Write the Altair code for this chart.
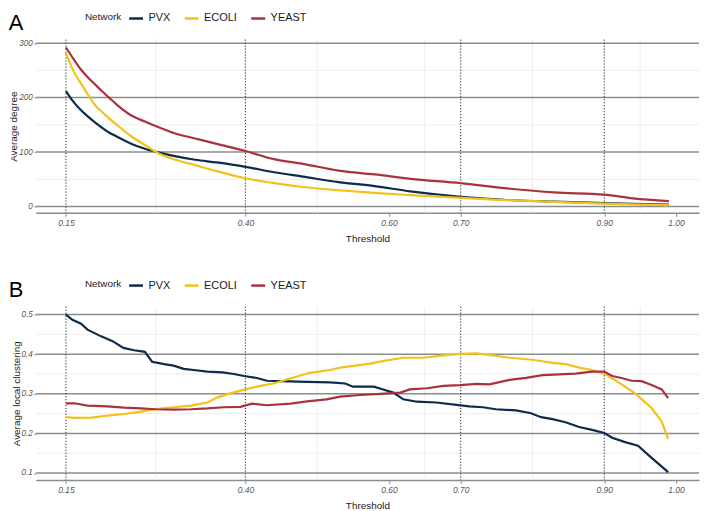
import altair as alt
import pandas as pd

NETWORKS = ["PVX", "ECOLI", "YEAST"]
COLORS = ["#0D2B4B", "#F2C21B", "#A8323E"]
PANEL_LABELS = ["A", "B"]
Y_TITLES = ["Average degree", "Average local clustering"]

X_BREAKS = [0.15, 0.40, 0.60, 0.70, 0.90, 1.00]
X_MINOR = [0.275, 0.50, 0.65, 0.80, 0.95]
VLINES = [0.15, 0.40, 0.70, 0.90]

A_Y_BREAKS = [0, 100, 200, 300]
A_Y_MINOR = [50, 150, 250]
B_Y_BREAKS = [0.1, 0.2, 0.3, 0.4, 0.5]
B_Y_MINOR = [0.15, 0.25, 0.35, 0.45]

# Panel A: average degree
A_THRESH = [0.15, 0.16, 0.17, 0.18, 0.19, 0.20, 0.21, 0.22, 0.24, 0.26, 0.28, 0.30, 0.33,
            0.36, 0.40, 0.44, 0.48, 0.53, 0.58, 0.63, 0.70, 0.76, 0.83, 0.90, 0.94, 0.99]
A_PVX = [212, 193, 178, 166, 155, 145, 136, 129, 116, 106, 99, 93, 86,
         81, 73, 63, 55, 45, 37.5, 28, 18, 12.5, 9, 6.5, 5, 3.5]
A_ECOLI = [282, 250, 228, 207, 187, 174, 162, 151, 130, 113, 97, 87, 76,
           65, 52, 43, 36, 30, 25, 21, 16, 12, 8.5, 5.5, 4, 2.5]
A_YEAST = [292, 272, 253, 238, 225, 212, 200, 188, 168, 156, 145, 135, 125,
           115, 102, 87, 78.5, 66, 59, 51, 43, 34, 26, 22, 15, 10]

# Panel B: average local clustering
B_PVX_T = [0.15, 0.159, 0.171, 0.180, 0.199, 0.215, 0.230, 0.245, 0.260, 0.270, 0.287, 0.300,
           0.314, 0.328, 0.347, 0.368, 0.384, 0.398, 0.416, 0.430, 0.449, 0.486, 0.518, 0.539,
           0.550, 0.560, 0.579, 0.593, 0.606, 0.620, 0.639, 0.666, 0.694, 0.712, 0.731, 0.749,
           0.777, 0.798, 0.812, 0.828, 0.846, 0.865, 0.883, 0.900, 0.911, 0.929, 0.947, 0.966, 0.989]
B_PVX_V = [0.500, 0.487, 0.477, 0.462, 0.445, 0.433, 0.416, 0.410, 0.406, 0.381, 0.375, 0.371,
           0.363, 0.360, 0.356, 0.354, 0.350, 0.345, 0.340, 0.333, 0.332, 0.330, 0.329, 0.326,
           0.318, 0.318, 0.318, 0.310, 0.303, 0.286, 0.280, 0.278, 0.272, 0.268, 0.266, 0.261,
           0.258, 0.251, 0.241, 0.236, 0.228, 0.216, 0.209, 0.201, 0.189, 0.178, 0.169, 0.138, 0.102]
B_ECOLI_T = [0.15, 0.162, 0.185, 0.208, 0.231, 0.254, 0.277, 0.300, 0.324, 0.347, 0.361, 0.379,
             0.400, 0.421, 0.439, 0.467, 0.490, 0.518, 0.532, 0.574, 0.593, 0.620, 0.648, 0.676,
             0.699, 0.722, 0.745, 0.768, 0.800, 0.828, 0.846, 0.865, 0.883, 0.901, 0.920, 0.943,
             0.966, 0.980, 0.989]
B_ECOLI_V = [0.241, 0.239, 0.240, 0.245, 0.249, 0.255, 0.262, 0.266, 0.270, 0.278, 0.291, 0.301,
             0.311, 0.320, 0.326, 0.341, 0.353, 0.360, 0.366, 0.376, 0.383, 0.391, 0.391, 0.397,
             0.401, 0.402, 0.397, 0.391, 0.386, 0.378, 0.375, 0.366, 0.360, 0.350, 0.329, 0.301,
             0.264, 0.230, 0.186]
B_YEAST_T = [0.15, 0.162, 0.180, 0.208, 0.231, 0.254, 0.275, 0.300, 0.324, 0.347, 0.370, 0.393,
             0.409, 0.430, 0.463, 0.486, 0.513, 0.532, 0.560, 0.588, 0.616, 0.629, 0.653, 0.676,
             0.699, 0.722, 0.740, 0.768, 0.791, 0.814, 0.837, 0.860, 0.883, 0.900, 0.911, 0.924,
             0.938, 0.952, 0.966, 0.980, 0.989]
B_YEAST_V = [0.276, 0.276, 0.270, 0.268, 0.265, 0.263, 0.261, 0.260, 0.261, 0.263, 0.266, 0.267,
             0.275, 0.271, 0.275, 0.281, 0.286, 0.293, 0.297, 0.300, 0.303, 0.311, 0.314, 0.320,
             0.322, 0.325, 0.324, 0.335, 0.340, 0.347, 0.349, 0.351, 0.356, 0.356, 0.345, 0.340,
             0.333, 0.332, 0.322, 0.311, 0.289]

FONT = "Liberation Sans"
GRID_DARK = "#8C8C8C"
GRID_LIGHT = "#EBEBEB"


def long_df(series):
    rows = []
    for name, ts, vs in series:
        for t, v in zip(ts, vs):
            rows.append({"threshold": t, "value": v, "network": name})
    return pd.DataFrame(rows)


df_a = long_df([("PVX", A_THRESH, A_PVX), ("ECOLI", A_THRESH, A_ECOLI), ("YEAST", A_THRESH, A_YEAST)])
df_b = long_df([("PVX", B_PVX_T, B_PVX_V), ("ECOLI", B_ECOLI_T, B_ECOLI_V), ("YEAST", B_YEAST_T, B_YEAST_V)])

XDOM = [0.108, 1.032]


def panel(df, letter, ytitle, ydom, ybreaks, yminor, yfmt, interp):
    xscale = alt.Scale(domain=XDOM, nice=False, zero=False)
    yscale = alt.Scale(domain=ydom, nice=False, zero=False)

    minor_v = alt.Chart(pd.DataFrame({"threshold": X_MINOR})).mark_rule(
        color=GRID_LIGHT, strokeWidth=0.9
    ).encode(x=alt.X("threshold:Q", scale=xscale))
    minor_h = alt.Chart(pd.DataFrame({"value": yminor})).mark_rule(
        color=GRID_LIGHT, strokeWidth=0.9
    ).encode(y=alt.Y("value:Q", scale=yscale))
    major_h = alt.Chart(pd.DataFrame({"value": ybreaks})).mark_rule(
        color=GRID_DARK, strokeWidth=1.5
    ).encode(y=alt.Y("value:Q", scale=yscale))
    dotted = alt.Chart(pd.DataFrame({"threshold": VLINES})).mark_rule(
        color="#222222", strokeWidth=1, strokeDash=[1.2, 1.8]
    ).encode(x=alt.X("threshold:Q", scale=xscale))

    lines = alt.Chart(df).mark_line(strokeWidth=2.2, interpolate=interp).encode(
        x=alt.X(
            "threshold:Q",
            scale=xscale,
            axis=alt.Axis(
                values=X_BREAKS, format=".2f", title="Threshold", grid=False,
                domain=True, domainColor=GRID_DARK, domainWidth=1.5,
                ticks=True, tickColor=GRID_DARK, tickSize=3.5, tickWidth=1,
                labelPadding=2, labelFontSize=8.5, labelFontStyle="italic",
                labelColor="#555555", titleFontSize=10, titleColor="#1A1A1A",
                titleFontWeight="normal", titlePadding=7, labelFlush=False,
            ),
        ),
        y=alt.Y(
            "value:Q",
            scale=yscale,
            axis=alt.Axis(
                values=ybreaks, format=yfmt, title=ytitle, grid=False, domain=False,
                ticks=True, tickColor=GRID_DARK, tickSize=2, tickWidth=1,
                labelPadding=1.5, labelFontSize=8.2, labelFontStyle="italic",
                labelColor="#555555", titleFontSize=10, titleColor="#1A1A1A",
                titleFontWeight="normal", titlePadding=0,
            ),
        ),
        color=alt.Color(
            "network:N",
            scale=alt.Scale(domain=NETWORKS, range=COLORS),
            legend=alt.Legend(
                orient="none", legendX=49.5, legendY=-30, direction="horizontal",
                title="Network", titleOrient="left", symbolType="stroke",
                symbolStrokeWidth=2.5, symbolSize=196, labelFontSize=11,
                titleFontSize=10, titleFontWeight="normal", titlePadding=6,
                labelOffset=4, columnPadding=8, padding=0, titleColor="#1A1A1A",
                labelColor="#1A1A1A", titleBaseline="middle",
            ),
        ),
    )

    label = alt.Chart(pd.DataFrame({"label": [letter]})).mark_text(
        align="left", baseline="top", fontSize=22, font=FONT, color="#000000"
    ).encode(text="label:N", x=alt.value(-27.2), y=alt.value(-27))

    return alt.layer(minor_v, minor_h, major_h, dotted, lines, label).properties(
        width=668, height=174.5
    )


pa = panel(df_a, PANEL_LABELS[0], Y_TITLES[0], [-11.5, 306.5], A_Y_BREAKS, A_Y_MINOR, "d", "monotone")
pb = panel(df_b, PANEL_LABELS[1], Y_TITLES[1], [0.0825, 0.52], B_Y_BREAKS, B_Y_MINOR, ".1f", "linear")

chart = alt.vconcat(pa, pb, spacing=33).resolve_scale(
    color="independent", x="independent", y="independent"
).resolve_legend(color="independent").properties(
    padding={"left": 0, "top": 0, "right": 0, "bottom": 0}
).configure(font=FONT).configure_view(stroke=None)

chart.save("out.html", embed_options={"renderer": "svg", "actions": False})
